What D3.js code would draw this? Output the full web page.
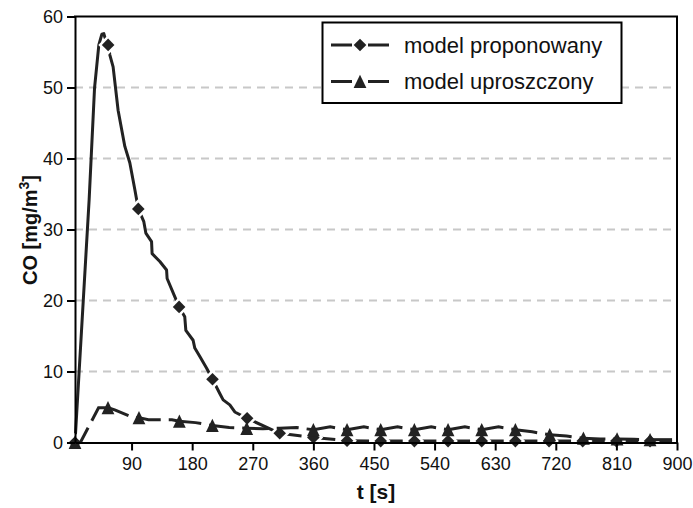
<!DOCTYPE html>
<html>
<head>
<meta charset="utf-8">
<script src="https://cdn.jsdelivr.net/npm/d3@7"></script>
<style>
  html, body { margin: 0; padding: 0; background: #fff; }
  svg { display: block; font-family: "Liberation Sans", Arial, sans-serif; }
</style>
</head>
<body>
<script>
// ---------------- DATA ----------------
const seriesNames = ["model proponowany", "model uproszczony"];
const xTicks = [90, 180, 270, 360, 450, 540, 630, 720, 810, 900];
const yTicks = [0, 10, 20, 30, 40, 50, 60];

// "model proponowany" – dense measured curve (t [s], CO [mg/m3])
const propCurveT = [6, 27, 35, 41.4, 45.9, 48.8, 50.3, 55.2, 57.7, 62.6, 70, 80, 87.4, 94.9, 100,
  108.2, 111.2, 119.7, 120.5, 132, 142, 142.8, 154.3, 160.6, 169, 170.6, 181.4, 183.9, 191.4,
  201.3, 210.2, 221, 226, 235.9, 243.3, 261.6, 310];
const propCurveV = [0, 34.2, 49.9, 56, 57.5, 57.6, 57.1, 56.0, 54.6, 52.9, 46.8, 41.7, 39.4, 35.6, 32.9,
  31.1, 29.5, 28.3, 26.6, 25.5, 24.3, 23.1, 20.5, 19.1, 17.7, 15.8, 14.4, 13.3, 12.1,
  10.5, 8.9, 6.9, 6.0, 5.3, 4.3, 3.4, 1.3];
// sparse tail of "model proponowany"
const propTailT = [310, 360, 410, 460, 510, 560, 610, 660, 710, 760, 810, 860, 900];
const propTailV = [1.3, 0.7, 0.25, 0.2, 0.2, 0.2, 0.2, 0.2, 0.2, 0.2, 0.2, 0.2, 0.2];
// marker points of "model proponowany"
const propMarkT = [6, 55.2, 100, 160.6, 210.2, 261.6, 310, 360, 410, 460, 510, 560, 610, 660, 710, 760, 810, 860];
const propMarkV = [0, 56.0, 32.9, 19.1, 8.9, 3.4, 1.3, 0.7, 0.25, 0.2, 0.2, 0.2, 0.2, 0.2, 0.2, 0.2, 0.2, 0.2];

// "model uproszczony" – line points
const simpLineT = [6, 14, 41, 55, 65, 90, 101, 115, 150, 161, 185, 210, 235, 261, 285, 310, 335,
  360, 385, 410, 435, 460, 485, 510, 535, 560, 585, 610, 635, 660, 685, 711, 736, 761, 786, 811, 836, 860, 900];
const simpLineV = [0, 0, 4.9, 4.9, 4.6, 3.6, 3.5, 3.2, 3.2, 3.0, 2.8, 2.4, 2.1, 2.0, 1.95, 2.0, 2.1,
  1.8, 2.2, 1.8, 2.2, 1.8, 2.2, 1.8, 2.2, 1.8, 2.2, 1.8, 2.2, 1.8, 1.5, 1.1, 0.9, 0.6, 0.5, 0.5, 0.45, 0.4, 0.4];
// marker points of "model uproszczony"
const simpMarkT = [6, 55, 101, 161, 210, 261, 360, 410, 460, 510, 560, 610, 660, 711, 761, 811, 860];
const simpMarkV = [0, 4.9, 3.5, 3.0, 2.4, 2.0, 1.8, 1.8, 1.8, 1.8, 1.8, 1.8, 1.8, 1.1, 0.6, 0.5, 0.4];

// ---------------- CHART ----------------
const W = 693, H = 508;
const ink = "#222";
const svg = d3.select("body").append("svg").attr("width", W).attr("height", H);

const x = d3.scaleLinear().domain([6, 900]).range([75, 677]);
const y = d3.scaleLinear().domain([0, 60]).range([442.5, 16.5]);

// gridlines
svg.append("g").selectAll("line")
  .data(yTicks.filter(v => v > 0 && v < 60))
  .join("line")
  .attr("x1", x.range()[0]).attr("x2", x.range()[1])
  .attr("y1", d => y(d)).attr("y2", d => y(d))
  .attr("stroke", "#c8c8c8").attr("stroke-width", 2).attr("stroke-dasharray", "8,6");

const zip = (T, V) => T.map((t, i) => [t, V[i]]);
const line = d3.line().x(d => x(d[0])).y(d => y(d[1]));

// split a polyline at marker times; each piece restarts its dash pattern
function pieces(points, markT) {
  const out = [];
  let cur = [points[0]];
  for (let i = 1; i < points.length; i++) {
    cur.push(points[i]);
    if (markT.includes(points[i][0]) || i === points.length - 1) { out.push(cur); cur = [points[i]]; }
  }
  return out;
}

const diamond = "M0,-6.3L6.3,0L0,6.3L-6.3,0Z";
const triangle = "M0,-6.7L6.4,6.6L-6.4,6.6Z";

// proponowany: dense curve (solid) + dashed tail
svg.append("path").datum(zip(propCurveT, propCurveV))
  .attr("d", line).attr("fill", "none").attr("stroke", ink)
  .attr("stroke-width", 3).attr("stroke-linejoin", "round").attr("stroke-linecap", "round");
svg.append("g").selectAll("path")
  .data(pieces(zip(propTailT, propTailV), propMarkT))
  .join("path").attr("d", line).attr("fill", "none").attr("stroke", ink)
  .attr("stroke-width", 3).attr("stroke-dasharray", "22,8");

// diamonds with white halo
svg.append("g").selectAll("path")
  .data(zip(propMarkT, propMarkV))
  .join("path")
  .attr("d", diamond)
  .attr("transform", d => `translate(${x(d[0])},${y(d[1])})`)
  .attr("fill", ink).attr("stroke", "#fff").attr("stroke-width", 5)
  .style("paint-order", "stroke");

// uproszczony: dashed line pieces
svg.append("g").selectAll("path")
  .data(pieces(zip(simpLineT, simpLineV), simpMarkT))
  .join("path").attr("d", line).attr("fill", "none").attr("stroke", ink)
  .attr("stroke-width", 3).attr("stroke-dasharray", "22,8");

svg.append("g").selectAll("path")
  .data(zip(simpMarkT, simpMarkV))
  .join("path")
  .attr("d", triangle)
  .attr("transform", d => `translate(${x(d[0])},${y(d[1])})`)
  .attr("fill", ink);

// axes
const yAxis = d3.axisLeft(y).tickValues(yTicks).tickSize(8).tickSizeOuter(0).tickPadding(4);
const xAxis = d3.axisBottom(x).tickValues(xTicks).tickSize(8).tickSizeOuter(0).tickPadding(7);

const gy = svg.append("g").attr("transform", `translate(${x.range()[0]},0)`).call(yAxis);
const gx = svg.append("g").attr("transform", `translate(0,${y.range()[0]})`).call(xAxis);
[gx, gy].forEach(g => {
  g.select(".domain").attr("stroke", "#000").attr("stroke-width", 2);
  g.selectAll(".tick line").attr("stroke", "#000").attr("stroke-width", 2);
  g.selectAll(".tick text").attr("fill", "#111").style("font-size", "18px")
    .style("font-family", '"Liberation Sans", Arial, sans-serif');
});

// frame top/right
svg.append("line").attr("x1", x.range()[0] - 1).attr("x2", x.range()[1] + 1)
  .attr("y1", y.range()[1]).attr("y2", y.range()[1]).attr("stroke", "#000").attr("stroke-width", 2);
svg.append("line").attr("x1", x.range()[1]).attr("x2", x.range()[1])
  .attr("y1", y.range()[1]).attr("y2", y.range()[0] + 1).attr("stroke", "#000").attr("stroke-width", 2);

// axis titles
svg.append("text").attr("x", 376).attr("y", 499).attr("text-anchor", "middle")
  .style("font-size", "21px").style("font-weight", "bold").attr("fill", "#111").text("t [s]");

const yt = svg.append("text")
  .attr("transform", "translate(37,230) rotate(-90)")
  .attr("text-anchor", "middle")
  .style("font-size", "20px").style("font-weight", "bold").attr("fill", "#111");
yt.append("tspan").text("CO [mg/m");
yt.append("tspan").attr("dy", "-8").style("font-size", "14px").text("3");
yt.append("tspan").attr("dy", "8").text("]");

// legend
const lg = svg.append("g");
lg.append("rect").attr("x", 322.5).attr("y", 22.5).attr("width", 299).attr("height", 80.5)
  .attr("fill", "#fff").attr("stroke", "#000").attr("stroke-width", 2);
const rowsY = [45, 81.5];
const shapes = [diamond, triangle];
seriesNames.forEach((name, i) => {
  const ry = rowsY[i];
  lg.append("path").attr("d", `M331,${ry}H389`).attr("stroke", ink).attr("stroke-width", 3)
    .attr("stroke-dasharray", "21,16");
  lg.append("path").attr("d", shapes[i]).attr("transform", `translate(360,${ry})`).attr("fill", ink);
  lg.append("text").attr("x", 404).attr("y", ry).attr("dy", "0.36em")
    .style("font-size", "22px").attr("fill", "#111").text(name);
});
</script>
</body>
</html>
